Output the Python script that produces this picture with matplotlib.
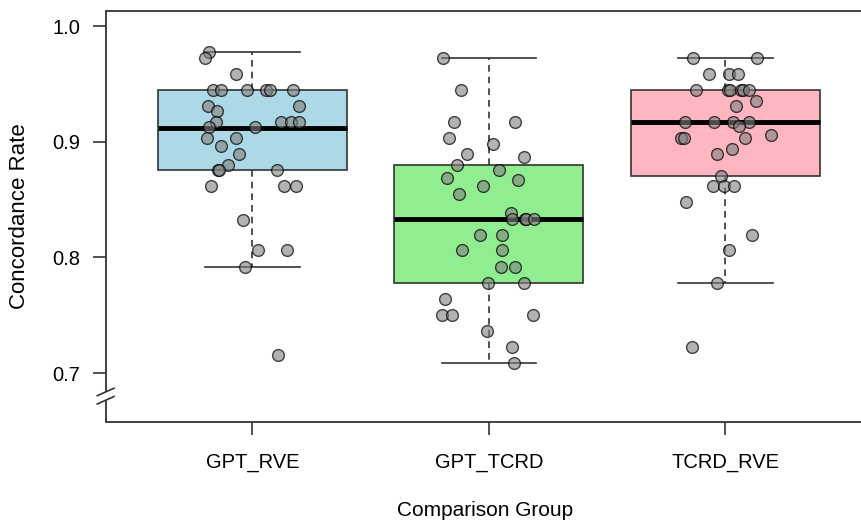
import numpy as np
import matplotlib.pyplot as plt

plt.rcParams['font.family'] = ['Liberation Sans', 'DejaVu Sans']

groups = ['GPT_RVE', 'GPT_TCRD', 'TCRD_RVE']
box_colors = ['#ADD8E6', '#90EE90', '#FFB6C1']

# box statistics
q1 = [0.8753, 0.7779, 0.8706]
med = [0.9121, 0.8335, 0.9168]
q3 = [0.9444, 0.8799, 0.9444]
whislo = [0.7917, 0.7085, 0.7779]
whishi = [0.9778, 0.9721, 0.9721]

# jittered points: (horizontal offset from group centre, value)
rve_off = [-0.185, -0.199, -0.068, -0.167, -0.131, -0.023, 0.058, 0.073, 0.172,
           -0.189, 0.199, -0.148, -0.154, 0.123, 0.164, 0.198, -0.183, 0.010,
           -0.194, -0.071, -0.133, -0.056, -0.105, -0.147, -0.141, 0.106,
           -0.177, 0.133, 0.183, -0.038, 0.024, 0.145, -0.031, 0.109]
rve_val = [0.9778, 0.9721, 0.9585, 0.9447, 0.9447, 0.9447, 0.9447, 0.9447, 0.9447,
           0.9306, 0.9306, 0.9263, 0.9168, 0.9168, 0.9168, 0.9168, 0.9124, 0.9124,
           0.9035, 0.9035, 0.8960, 0.8891, 0.8801, 0.8753, 0.8753, 0.8753,
           0.8615, 0.8615, 0.8615, 0.8321, 0.8061, 0.8061, 0.7917, 0.7154]

tcrd_off = [-0.195, -0.120, -0.146, 0.110, -0.169, 0.017, -0.092, 0.150, -0.136,
            0.041, -0.177, 0.123, -0.023, -0.127, 0.092, 0.099, 0.151, 0.157, 0.191,
            -0.038, 0.056, -0.113, 0.056, 0.051, 0.110, -0.003, 0.150, -0.186,
            -0.197, -0.156, 0.188, -0.006, 0.099, 0.106]
tcrd_val = [0.9721, 0.9447, 0.9168, 0.9168, 0.9035, 0.8983, 0.8891, 0.8865, 0.8801,
            0.8753, 0.8684, 0.8669, 0.8615, 0.8545, 0.8386, 0.8335, 0.8335, 0.8335, 0.8335,
            0.8196, 0.8196, 0.8061, 0.8061, 0.7920, 0.7920, 0.7779, 0.7779, 0.7640,
            0.7502, 0.7502, 0.7502, 0.7364, 0.7226, 0.7085]

tr_off = [-0.136, 0.133, -0.071, 0.015, 0.053, -0.125, 0.013, 0.021, 0.065, 0.075,
          0.102, 0.128, 0.045, -0.171, -0.047, 0.034, 0.099, 0.056, 0.192, -0.186,
          -0.177, 0.082, 0.028, -0.037, -0.017, -0.054, -0.006, 0.036, -0.167,
          0.113, 0.015, -0.036, -0.142]
tr_val = [0.9721, 0.9721, 0.9585, 0.9585, 0.9585, 0.9447, 0.9447, 0.9447, 0.9447, 0.9447,
          0.9447, 0.9354, 0.9306, 0.9168, 0.9168, 0.9168, 0.9168, 0.9136, 0.9058, 0.9035,
          0.9035, 0.9035, 0.8937, 0.8891, 0.8706, 0.8615, 0.8615, 0.8615, 0.8476,
          0.8196, 0.8061, 0.7779, 0.7226]

offsets = [rve_off, tcrd_off, tr_off]
values = [rve_val, tcrd_val, tr_val]

fig = plt.figure(figsize=(8.62, 5.21), dpi=100)
ax = fig.add_axes([106 / 862, 99 / 521, 1.0 - 106 / 862 + 0.002, 411 / 521])

stats = []
for i, g in enumerate(groups):
    stats.append(dict(label=g, q1=q1[i], med=med[i], q3=q3[i],
                      whislo=whislo[i], whishi=whishi[i], fliers=[]))

edge = '#333333'
bp = ax.bxp(stats, positions=[1, 2, 3], widths=0.8, capwidths=0.4,
            patch_artist=True, showfliers=False,
            boxprops=dict(edgecolor=edge, linewidth=1.2),
            medianprops=dict(color='black', linewidth=3.5, solid_capstyle='butt'),
            whiskerprops=dict(color=edge, linewidth=1.2, linestyle=(0, (4, 3))),
            capprops=dict(color=edge, linewidth=1.2))
for patch, c in zip(bp['boxes'], box_colors):
    patch.set_facecolor(c)

for i in range(3):
    x = i + 1 + np.array(offsets[i])
    ax.scatter(x, values[i], s=72, facecolor=(0.5, 0.5, 0.5, 0.6),
               edgecolor=(0, 0, 0, 0.7), linewidth=1.0, zorder=5)

ax.set_xlim(0.381, 3.585)
ax.set_ylim(0.6577, 1.013)
ax.set_yticks([0.7, 0.8, 0.9, 1.0])
ax.set_yticklabels(['0.7', '0.8', '0.9', '1.0'])
ax.set_xticks([1, 2, 3])
ax.set_xticklabels(groups)
ax.tick_params(axis='both', labelsize=14.5, length=9.5, width=1.2, color=edge)
ax.tick_params(axis='y', pad=9)
ax.tick_params(axis='x', pad=13)

for s in ['left', 'bottom', 'top', 'right']:
    ax.spines[s].set_color(edge)
    ax.spines[s].set_linewidth(1.3)
ax.spines['right'].set_visible(False)
ax.spines['left'].set_visible(False)

# left axis line with a break near the bottom
ax.plot([0, 0], [1, 30 / 411], transform=ax.transAxes, color=edge, lw=1.3,
        clip_on=False, solid_capstyle='butt')
ax.plot([0, 0], [22 / 411, 0], transform=ax.transAxes, color=edge, lw=1.3,
        clip_on=False, solid_capstyle='butt')
for y0 in [26.3, 18]:
    ax.plot([-8.7 / 756, 8 / 756], [y0 / 411, (y0 + 7.5) / 411], transform=ax.transAxes,
            color=edge, lw=1.2, clip_on=False)

ax.set_ylabel('Concordance Rate', fontsize=16, labelpad=16)
ax.set_xlabel('Comparison Group', fontsize=15, labelpad=21)

fig.savefig('out.png', dpi=100)
